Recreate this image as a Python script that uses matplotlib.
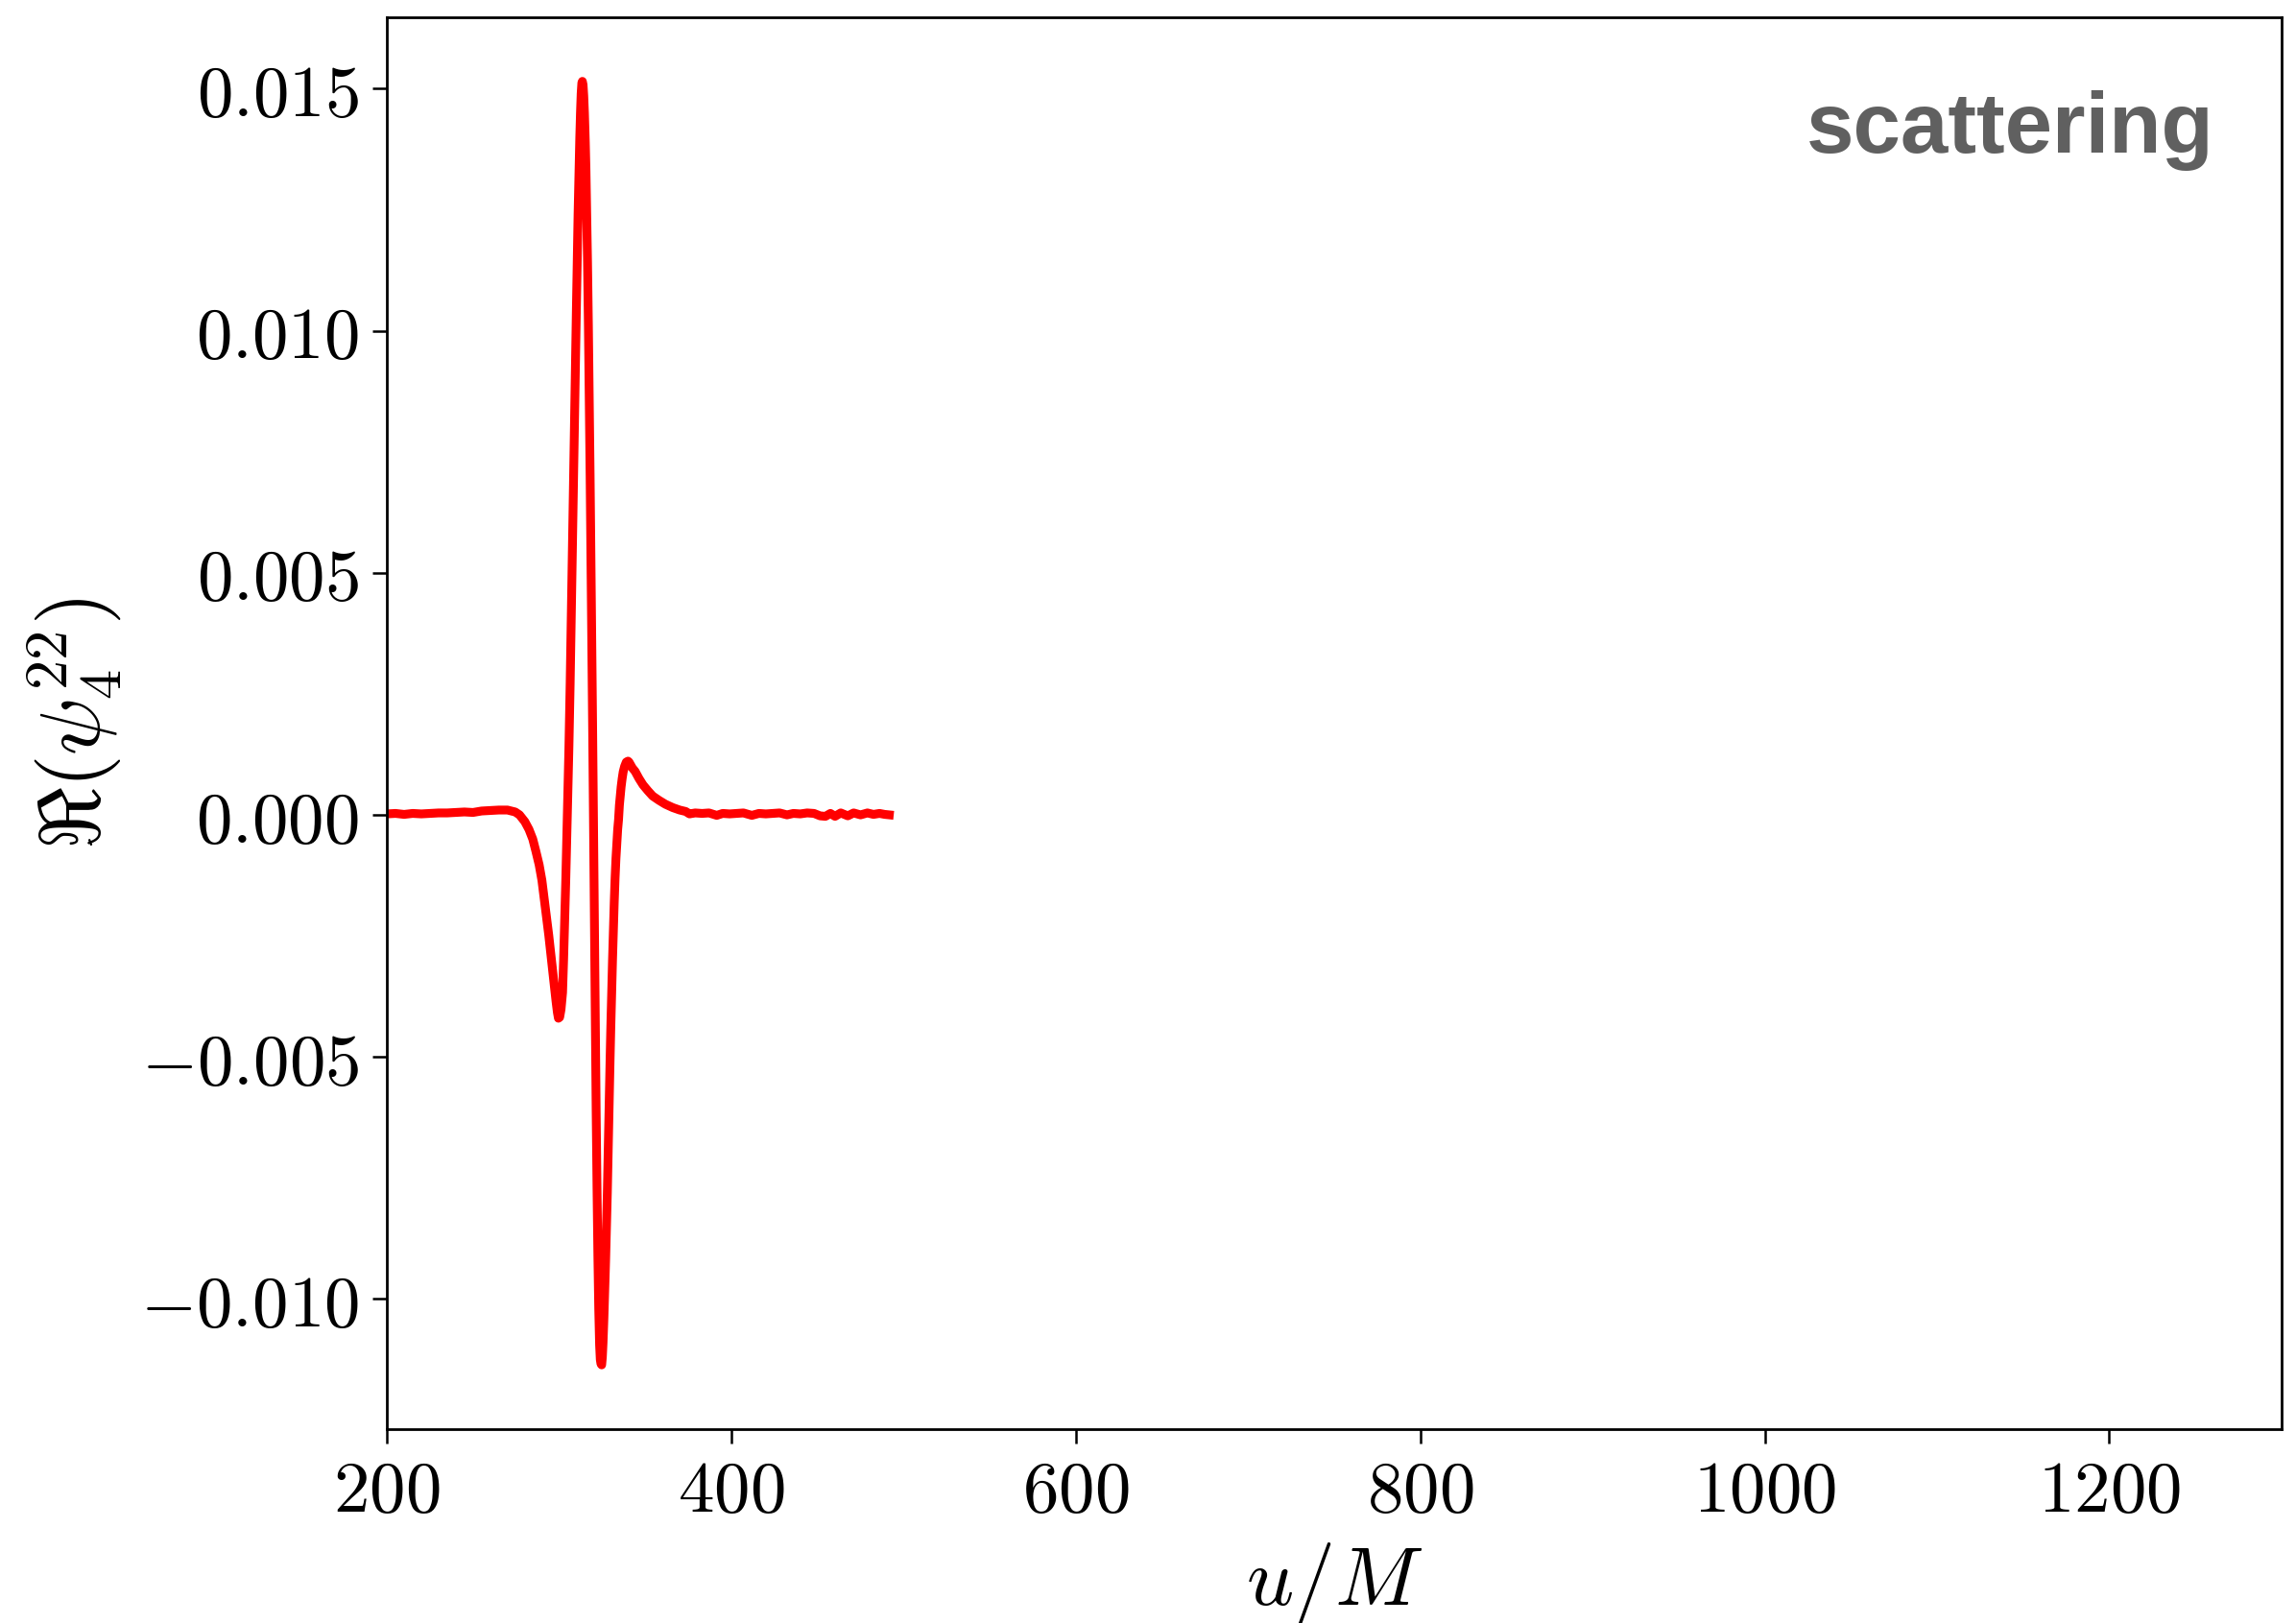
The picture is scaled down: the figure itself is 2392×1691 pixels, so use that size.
import numpy as np
import matplotlib
matplotlib.use("Agg")
import matplotlib.pyplot as plt

# data: retarded time u/M and Re(psi4^22)
# quiet part before the burst
u_pre = [200, 205, 210, 215, 220, 225, 230, 235, 240, 245,
         250, 255, 260, 265, 270, 274.5]
psi_pre = [0.00002, 0.00003, 0.00001, 0.00003, 0.00002, 0.00003, 0.00004, 0.00004, 0.00005, 0.00006,
           0.00005, 0.00008, 0.00009, 0.00010, 0.00010, 0.00006]

# the burst
u_burst = [277.0, 280.1, 282.5, 284.7, 286.5, 288.4, 290.0, 291.2, 292.6, 294.0,
           295.4, 296.8, 298.2, 299.0, 299.6, 300.3, 301.1, 302.0, 302.6, 303.2,
           303.9, 304.6, 305.2, 305.7, 306.4, 307.0, 307.5, 308.0, 308.5, 309.0,
           309.5, 310.0, 310.5, 311.0, 311.5, 312.0, 312.4, 312.8, 313.2, 313.5,
           313.9, 314.3, 314.7, 315.2, 315.6, 316.0, 316.5, 317.0, 317.5, 318.0,
           318.5, 319.0, 319.5, 320.0, 320.5, 321.0, 321.5, 322.0, 322.5, 323.0,
           323.5, 323.9, 324.3, 324.7, 325.1, 325.5, 326.0, 326.5, 327.0, 327.5,
           328.0, 328.5, 329.0, 329.5, 330.0, 330.5, 331.0, 331.5, 332.0, 332.5,
           333.0, 333.5, 334.0, 334.5, 335.0, 335.5, 336.0, 336.6, 337.2, 338.0,
           339.0, 340.0, 340.6, 341.4, 342.5, 344.1, 346.4, 348.7, 351.5, 354.3,
           358.0, 361.7, 366.0, 370.0, 373.5]
psi_burst = [0.00000, -0.00014, -0.00030, -0.00050, -0.00075, -0.00103, -0.00135, -0.00169, -0.00208, -0.00249,
             -0.00295, -0.00341, -0.00385, -0.00408, -0.00420, -0.00418, -0.00402, -0.00367, -0.00300, -0.00222,
             -0.00130, -0.00024, 0.00070, 0.00141, 0.00270, 0.00400, 0.00510, 0.00620, 0.00725, 0.00830,
             0.00935, 0.01040, 0.01140, 0.01240, 0.01325, 0.01400, 0.01450, 0.01490, 0.01512, 0.01515,
             0.01508, 0.01485, 0.01450, 0.01390, 0.01330, 0.01250, 0.01140, 0.01010, 0.00860, 0.00700,
             0.00525, 0.00350, 0.00165, -0.00030, -0.00230, -0.00430, -0.00610, -0.00770, -0.00910, -0.01020,
             -0.01095, -0.01125, -0.01134, -0.01136, -0.01120, -0.01090, -0.01040, -0.00980, -0.00920, -0.00850,
             -0.00780, -0.00690, -0.00610, -0.00520, -0.00440, -0.00370, -0.00300, -0.00240, -0.00180, -0.00130,
             -0.00090, -0.00060, -0.00030, -0.00010, 0.00020, 0.00040, 0.00058, 0.00075, 0.00089, 0.00100,
             0.00109, 0.00111, 0.00109, 0.00104, 0.00097, 0.00090, 0.00075, 0.00062, 0.00050, 0.00039,
             0.00030, 0.00022, 0.00015, 0.00010, 0.00007]

# noisy tail
u_tail = [375.7, 379, 383, 387, 391.5, 395, 399, 403, 407, 411.9,
          416, 420, 424, 428, 432.3, 436, 440, 444, 448, 451.5,
          454.6, 457.5, 460.2, 463.5, 467.6, 471, 475, 479, 482.5, 486,
          489, 491.7]
psi_tail = [0.00002, 0.00004, 0.00003, 0.00004, -0.00001, 0.00003, 0.00002, 0.00003, 0.00004, -0.00001,
            0.00003, 0.00002, 0.00003, 0.00004, 0.00000, 0.00003, 0.00002, 0.00004, 0.00003, -0.00002,
            -0.00003, 0.00003, -0.00003, 0.00004, -0.00002, 0.00004, 0.00000, 0.00004, 0.00001, 0.00003,
            0.00001, 0.00000]

xticks = [200, 400, 600, 800, 1000, 1200]
yticks = [-0.010, -0.005, 0.000, 0.005, 0.010, 0.015]

u = np.concatenate([u_pre, u_burst, u_tail])
re_psi4 = np.concatenate([psi_pre, psi_burst, psi_tail])

plt.rcParams['mathtext.fontset'] = 'cm'

fig = plt.figure(figsize=(11.96, 8.455), dpi=200)
ax = fig.add_axes([0.1685, 0.1195, 0.8252, 0.8699])

ax.plot(u, re_psi4, color='#ff0000', lw=3.3)

ax.set_xlim(200, 1300)
ax.set_xticks(xticks)
ax.set_xticklabels(['$%d$' % t for t in xticks])
ax.set_yticks(yticks)
ax.set_yticklabels(['$%.3f$' % t if t >= 0 else r'$-%.3f$' % abs(t) for t in yticks])
ax.margins(y=0.05)

ax.tick_params(labelsize=27, length=5.4, width=0.9, pad=5)
for s in ax.spines.values():
    s.set_linewidth(1.0)

ax.set_xlabel('$u/M$', fontsize=31, labelpad=5)
ax.set_ylabel(r'$\Re(\psi_4^{22})$', fontsize=32, labelpad=6)

ax.text(0.9645, 0.904, 'scattering', transform=ax.transAxes, ha='right', va='baseline',
        fontsize=32, fontweight='bold', family='Liberation Sans', color='#606060')

fig.savefig('out.png', dpi=200)
